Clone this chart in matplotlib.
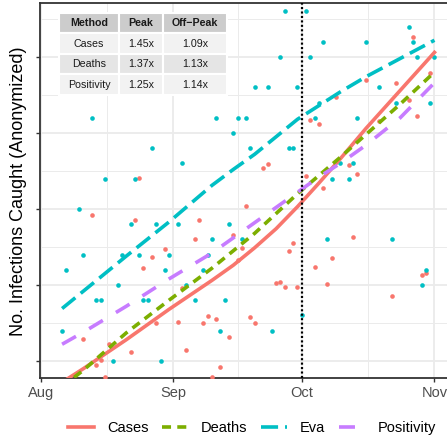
import matplotlib
matplotlib.use("Agg")
import matplotlib.pyplot as plt

plt.rcParams['font.family'] = ['Liberation Sans', 'DejaVu Sans']
plt.rcParams['lines.scale_dashes'] = False

# days since Aug 1
month_ticks = [0, 31, 61, 92]
month_labels = ["Aug", "Sep", "Oct", "Nov"]

# raw daily points
eva_days = [5, 6, 9, 10, 12, 13, 14, 15, 17, 18, 19, 21, 22, 23, 24, 25, 26, 27, 28, 29,
            30, 32, 33, 34, 36, 38, 39, 40, 41, 42, 43, 44, 45, 46, 47, 48, 49, 50, 53, 54,
            56, 57, 58, 59, 60, 61, 62, 63, 64, 65, 66, 67, 68, 70, 72, 73, 74, 76, 79, 82,
            83, 86, 87, 88, 89, 90, 91, 92]
eva_vals = [7, 11, 15, 12, 21, 9, 9, 17, 5, 10, 12, 14, 17, 12, 9, 9, 19, 14, 5, 11,
            12, 14, 18, 10, 9, 11, 12, 13, 21, 7, 9, 14, 20, 21, 13, 21, 19, 23, 23, 7,
            25, 28, 19, 19, 23, 8, 28, 25, 21, 22, 26, 13, 17, 18, 17, 18, 21, 26, 23, 13,
            22, 27, 26, 25, 10, 11, 22, 25]

cases_days = [10, 12, 13, 14, 15, 16, 21, 22, 23, 24, 26, 27, 29, 32, 33, 34, 36, 37, 38, 39,
              40, 41, 42, 44, 45, 46, 47, 48, 49, 50, 52, 53, 55, 56, 57, 58, 59, 60, 62, 63,
              64, 65, 66, 67, 68, 69, 72, 73, 74, 76, 79, 82, 83, 86, 87, 88, 89, 90, 91]
cases_vals = [6.45, 14.6, 4.76, 5.07, 3.97, 6.12, 5.61, 14.28, 17.04, 11.14, 11.86, 7.52, 12.37,
              7.59, 9.78, 5.70, 13.0, 14.28, 7.52, 7.96, 3.97, 7.76, 4.63, 6.6, 13.29, 11.64,
              12.41, 15.2, 7.89, 7.52, 17.68, 17.96, 10.11, 10.2, 9.89, 12.26, 12.74, 9.89,
              17.19, 20.86, 11.16, 20.6, 16.36, 10.05, 11.78, 22.39, 17.9, 13.14, 17.3, 23.49,
              20.8, 9.28, 23.27, 22.2, 26.3, 21.1, 10.66, 10.77, 23.97]

# fitted trend lines
fit_days = [5, 10, 20, 30, 40, 45, 50, 55, 60, 65, 70, 76, 84, 92]
fit_cases = [3.6, 4.5, 6.4, 8.4, 10.3, 11.3, 12.45, 13.7, 15.15, 16.7, 18.3, 20.3, 22.8, 25.3]
fit_deaths = [3.3, 4.4, 6.85, 9.0, 11.1, 12.25, 13.4, 14.7, 16.0, 17.2, 18.4, 19.9, 21.9, 24.0]
fit_eva = [8.45, 9.6, 11.9, 14.15, 16.55, 17.6, 18.6, 19.75, 20.9, 21.8, 22.7, 23.7, 24.9, 26.1]
fit_pos = [6.1, 6.9, 8.6, 10.4, 12.1, 13.1, 14.1, 15.1, 16.1, 17.1, 18.0, 19.2, 21.0, 23.3]

cutoff_day = 61

table_cols = ["Method", "Peak", "Off\u2212Peak"]
table_rows = [["Cases", "1.45x", "1.09x"],
              ["Deaths", "1.37x", "1.13x"],
              ["Positivity", "1.25x", "1.14x"]]

red, green, cyan, purple = "#F8766D", "#7CAE00", "#00BFC4", "#C77CFF"

fig = plt.figure(figsize=(4.47, 4.38), dpi=100)
ax = fig.add_axes([40 / 447, 60 / 438, 407 / 447, 375 / 438])

ax.scatter(cases_days, cases_vals, s=11, color=red, linewidths=0, zorder=3)
ax.scatter(eva_days, eva_vals, s=11, color=cyan, linewidths=0, zorder=3)

l1, = ax.plot(fit_days, fit_cases, color=red, lw=2.6, label="Cases", zorder=4)
l2, = ax.plot(fit_days, fit_deaths, color=green, lw=2.6, dashes=(6.5, 4.5), label="Deaths", zorder=4)
l3, = ax.plot(fit_days, fit_eva, color=cyan, lw=2.6, dashes=(12.3, 5), label="Eva", zorder=4)
l4, = ax.plot(fit_days, fit_pos, color=purple, lw=2.6, dashes=(11.5, 11), label="Positivity", zorder=4)

ax.axvline(cutoff_day, color="black", lw=1.6, dashes=(1.5, 1.7), zorder=5)

ax.set_xlim(-0.16, 94.93)
ax.set_ylim(3.88, 28.55)
ax.set_xticks(month_ticks)
ax.set_xticklabels(month_labels)
ax.set_xticks([15.5, 46, 76.5], minor=True)
ax.set_yticks([5, 10, 15, 20, 25])
ax.set_yticks([7.5, 12.5, 17.5, 22.5, 27.5], minor=True)
ax.set_yticklabels([])

ax.grid(which="major", color="#EBEBEB", lw=1.3)
ax.grid(which="minor", color="#EBEBEB", lw=0.7)
ax.set_axisbelow(True)
ax.tick_params(which="major", direction="out", length=3, width=1, color="#333333",
               labelcolor="#4D4D4D", labelsize=10.5, pad=2.5)
ax.tick_params(which="minor", length=0)
for side in ["left", "bottom", "top"]:
    ax.spines[side].set_color("#333333")
    ax.spines[side].set_linewidth(1.3)
ax.spines["right"].set_visible(False)

fig.text(19 / 447, 1 - 191 / 438, "No. Infections Caught (Anonymized)", rotation=90,
         ha="center", va="center", fontsize=13)

tab = ax.table(cellText=table_rows, colLabels=table_cols, cellLoc="center",
               colWidths=[0.357, 0.262, 0.381], bbox=[0.0467, 0.7547, 0.4128, 0.2195])
tab.auto_set_font_size(False)
for (r, c), cell in tab.get_celld().items():
    cell.set_edgecolor("white")
    cell.set_linewidth(1.5)
    cell.get_text().set_fontsize(7.7)
    cell.get_text().set_color("#1A1A1A")
    if r == 0:
        cell.set_facecolor("#CCCCCC")
        cell.get_text().set_fontweight("bold")
    elif r % 2 == 1:
        cell.set_facecolor("#F2F2F2")
    else:
        cell.set_facecolor("#E5E5E5")
tab.set_zorder(6)

fig.legend(handles=[l1, l2, l3, l4], loc="center", bbox_to_anchor=(252 / 447, 10 / 438),
           ncol=4, frameon=False, fontsize=10.5, handlelength=1.8, handletextpad=0.9,
           columnspacing=0.9)

fig.savefig("out.png", dpi=100)
